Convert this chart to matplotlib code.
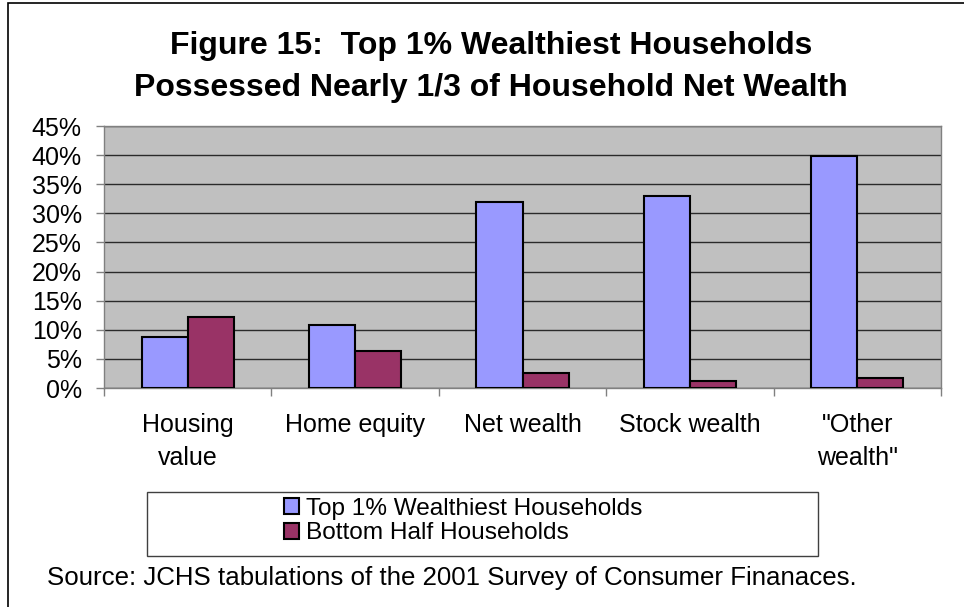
import matplotlib
matplotlib.use("Agg")
import matplotlib.pyplot as plt
from matplotlib.patches import Rectangle, Patch
import numpy as np

plt.rcParams['font.family'] = ['Liberation Sans', 'DejaVu Sans']

# --- Data ---
categories = ["Housing\nvalue", "Home equity", "Net wealth", "Stock wealth", '"Other\nwealth"']
top1_share = [8.8, 10.9, 31.9, 32.9, 39.8]
bottom_half_share = [12.2, 6.4, 2.5, 1.2, 1.8]
series_names = ["Top 1% Wealthiest Households", "Bottom Half Households"]
y_ticks = [0, 5, 10, 15, 20, 25, 30, 35, 40, 45]

BLUE = "#9999FF"
PLUM = "#993366"
PLOT_BG = "#C0C0C0"

W, H = 964, 607
fig = plt.figure(figsize=(W / 100, H / 100), dpi=100)

# axes placed in pixel terms
left, right, top, bottom = 104, 941, 126, 388
ax = fig.add_axes([left / W, (H - bottom) / H, (right - left) / W, (bottom - top) / H])
ax.set_facecolor(PLOT_BG)

x = np.arange(len(categories))
bw = 0.275
ax.bar(x - bw / 2, top1_share, width=bw, color=BLUE, edgecolor="black", linewidth=1.5, zorder=3)
ax.bar(x + bw / 2, bottom_half_share, width=bw, color=PLUM, edgecolor="black", linewidth=1.5, zorder=3)

ax.set_xlim(-0.5, len(categories) - 0.5)
ax.set_ylim(0, 45)
ax.set_yticks(y_ticks)
ax.set_yticklabels([f"{t}%" for t in y_ticks])
ax.yaxis.grid(True, color="#2a2a2a", linewidth=1.0, zorder=1)
ax.set_axisbelow(True)

ax.set_xticks(x)
ax.set_xticklabels(categories, linespacing=1.45)
ax.set_xticks(np.arange(-0.5, len(categories)), minor=True)
ax.tick_params(axis="x", which="major", length=0, pad=18, labelsize=18)
ax.tick_params(axis="x", which="minor", length=6, width=1, color="#808080", direction="out")
ax.tick_params(axis="y", length=6, width=1, color="#808080", direction="out", pad=10, labelsize=18)

for side in ["left", "bottom", "top", "right"]:
    ax.spines[side].set_color("#808080")
    ax.spines[side].set_linewidth(1)

# title
fig.text(491 / W, 1 - 46 / H, "Figure 15:  Top 1% Wealthiest Households",
         ha="center", va="center", fontsize=23, fontweight="bold")
fig.text(491 / W, 1 - 88 / H, "Possessed Nearly 1/3 of Household Net Wealth",
         ha="center", va="center", fontsize=23, fontweight="bold")

# legend box
fig.add_artist(Rectangle((147 / W, 1 - 556 / H), (818 - 147) / W, (556 - 492) / H,
                         transform=fig.transFigure, facecolor="white",
                         edgecolor="#404040", linewidth=1))
handles = [Patch(facecolor=BLUE, edgecolor="black", linewidth=1.5),
           Patch(facecolor=PLUM, edgecolor="black", linewidth=1.5)]
fig.legend(handles, series_names, loc="center left",
           bbox_to_anchor=(272 / W, 1 - 521 / H), frameon=False,
           fontsize=17.6, handlelength=0.6, handleheight=0.6, handletextpad=0.3,
           labelspacing=0.12, borderpad=0)

fig.text(47 / W, 1 - 578 / H,
         "Source: JCHS tabulations of the 2001 Survey of Consumer Finanaces.",
         ha="left", va="center", fontsize=18.6)

# outer chart border
fig.add_artist(Rectangle((8 / W, -0.1), 1.2, (H - 3) / H + 0.1,
                         transform=fig.transFigure, facecolor="none",
                         edgecolor="black", linewidth=1.2))

fig.savefig("out.png", dpi=100)
